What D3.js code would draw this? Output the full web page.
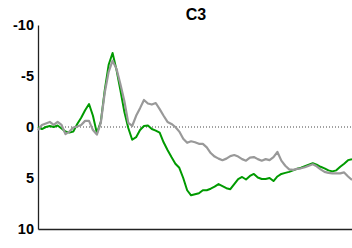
<!DOCTYPE html>
<html>
<head>
<meta charset="utf-8">
<script src="https://d3js.org/d3.v7.min.js"></script>
<style>
  html, body { margin: 0; padding: 0; background: #fff; }
  svg { display: block; }
</style>
</head>
<body>
<div id="chart"></div>
<script>
const channel = "C3";
const yTicks = [-10, -5, 0, 5, 10];

// time in ms, every 10 ms from -100 to 700
const times = d3.range(-100, 701, 10);

// amplitude (µV), negative up
const greenValues = [
  0.0, 0.2, 0.0, -0.1, 0.0, -0.15, 0.15, 0.45, 0.55, 0.45,
  -0.3, -0.9, -1.65, -2.25, -1.1, 0.6, -0.5, -3.6, -6.1, -7.25,
  -5.6, -3.6, -1.5, 0.1, 1.25, 1.0, 0.3, -0.1, -0.15, 0.2,
  0.35, 0.55, 1.5, 2.25, 2.95, 3.6, 4.0, 5.0, 6.2, 6.7,
  6.6, 6.5, 6.2, 6.2, 6.05, 5.85, 5.6, 5.8, 6.0, 6.1,
  5.6, 5.1, 4.9, 5.15, 4.8, 4.6, 4.95, 5.1, 5.1, 5.0,
  5.3, 4.85, 4.6, 4.5, 4.4, 4.25, 4.1, 4.0, 3.85, 3.7,
  3.55, 3.7, 3.9, 4.05, 4.25, 4.35, 4.25, 3.9, 3.6, 3.25,
  3.15
];

const grayValues = [
  0.3, -0.2, -0.35, -0.5, -0.2, -0.5, -0.2, 0.7, 0.45, 0.05,
  -0.05, -0.2, -0.6, -0.6, 0.3, 0.75, -0.4, -3.35, -5.4, -6.5,
  -5.7, -4.2, -2.55, -0.4, -0.1, -1.1, -1.85, -2.65, -2.3, -2.2,
  -2.35, -1.75, -1.1, -0.5, -0.3, 0.0, 0.45, 1.15, 1.55, 1.4,
  1.5, 1.65, 1.65, 2.0, 2.55, 2.9, 3.1, 3.25, 3.1, 2.85,
  2.75, 2.9, 3.15, 3.3, 3.0, 2.95, 3.15, 3.3, 3.15, 3.25,
  2.95, 2.45, 3.3, 3.8, 4.15, 4.2, 4.1, 4.05, 3.95, 3.8,
  3.65, 3.85, 4.15, 4.4, 4.5, 4.55, 4.55, 4.55, 4.45, 4.85,
  5.2
];

const width = 352, height = 248;
const margin = { top: 25, right: 0, bottom: 19, left: 38 };

const svg = d3.select("#chart").append("svg")
  .attr("width", width)
  .attr("height", height);

const x = d3.scaleLinear()
  .domain([times[0], times[times.length - 1]])
  .range([margin.left, width - margin.right]);

const y = d3.scaleLinear()
  .domain([-10, 10])
  .range([margin.top, height - margin.bottom]);

// title
svg.append("text")
  .attr("x", 196)
  .attr("y", 20)
  .attr("text-anchor", "middle")
  .style("font", "bold 16px 'Liberation Sans', Arial, sans-serif")
  .text(channel);

// zero line
svg.append("line")
  .attr("x1", x.range()[0])
  .attr("x2", x.range()[1])
  .attr("y1", y(0))
  .attr("y2", y(0))
  .attr("stroke", "#444")
  .attr("stroke-width", 1)
  .attr("stroke-dasharray", "1,2");

// y axis, plain hyphen minus like the original
const yAxis = svg.append("g")
  .attr("transform", `translate(${margin.left},0)`)
  .call(d3.axisLeft(y).tickValues(yTicks).tickFormat(d => String(d))
    .tickSize(0).tickPadding(4));
yAxis.select(".domain").attr("stroke", "#222").attr("stroke-width", 1.3);
yAxis.selectAll("text")
  .attr("fill", "#000")
  .style("font", "bold 14.5px 'Liberation Sans', Arial, sans-serif");

// x axis (line only)
const xAxis = svg.append("g")
  .attr("transform", `translate(0,${y(10)})`)
  .call(d3.axisBottom(x).tickValues([]).tickSizeOuter(0));
xAxis.select(".domain").attr("stroke", "#222").attr("stroke-width", 1.3);

const line = d3.line()
  .x((d, i) => x(times[i]))
  .y(d => y(d));

svg.append("path")
  .datum(greenValues)
  .attr("fill", "none")
  .attr("stroke", "#009a00")
  .attr("stroke-width", 2)
  .attr("stroke-linejoin", "round")
  .attr("d", line);

svg.append("path")
  .datum(grayValues)
  .attr("fill", "none")
  .attr("stroke", "#999")
  .attr("stroke-width", 2.2)
  .attr("stroke-linejoin", "round")
  .attr("d", line);
</script>
</body>
</html>
